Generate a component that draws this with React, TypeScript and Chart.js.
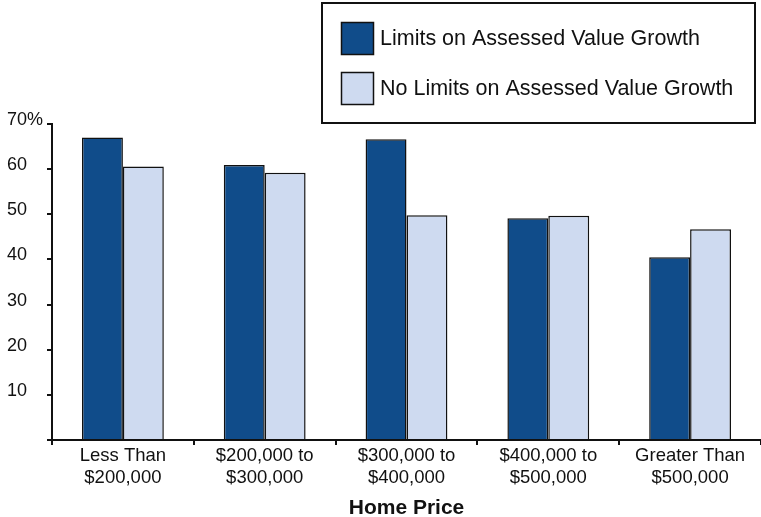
import React, { useEffect, useRef } from 'react';
import { Chart, registerables } from 'chart.js';

Chart.register(...registerables);

const categories: string[][] = [
  ['Less Than', '$200,000'],
  ['$200,000 to', '$300,000'],
  ['$300,000 to', '$400,000'],
  ['$400,000 to', '$500,000'],
  ['Greater Than', '$500,000'],
];
const seriesNames = ['Limits on Assessed Value Growth', 'No Limits on Assessed Value Growth'];
const limitsValues = [67.0, 60.9, 66.6, 49.1, 40.5];
const noLimitsValues = [60.6, 59.2, 49.8, 49.7, 46.7];
const yMax = 70;
const yStep = 10;
const xTitle = 'Home Price';

const DARK = 'rgb(16,76,138)';
const LIGHT = 'rgb(206,218,240)';
const INK = '#111111';
const FONT = '"Liberation Sans", Arial, Helvetica, sans-serif';

const boxLegend = {
  id: 'boxLegend',
  afterDraw(chart: any) {
    const ctx = chart.ctx as CanvasRenderingContext2D;
    ctx.save();
    ctx.lineWidth = 2;
    ctx.strokeStyle = INK;
    ctx.strokeRect(322, 3, 433, 120);
    chart.data.datasets.forEach((ds: any, i: number) => {
      const y = 22 + i * 50;
      ctx.fillStyle = ds.backgroundColor;
      ctx.fillRect(341, y, 33, 33);
      ctx.lineWidth = 1.5;
      ctx.strokeStyle = INK;
      ctx.strokeRect(341.5, y + 0.5, 32, 32);
      ctx.fillStyle = INK;
      ctx.font = `21.5px ${FONT}`;
      ctx.textBaseline = 'middle';
      ctx.textAlign = 'left';
      ctx.fillText(ds.label, 380, y + 17);
    });
    ctx.restore();
  },
};

export default function App() {
  const ref = useRef<HTMLCanvasElement | null>(null);
  useEffect(() => {
    if (!ref.current) return;
    const chart = new Chart(ref.current, {
      type: 'bar',
      data: {
        labels: categories,
        datasets: [
          {
            label: seriesNames[0],
            data: limitsValues,
            backgroundColor: DARK,
            borderColor: INK,
            borderWidth: 1.5,
          },
          {
            label: seriesNames[1],
            data: noLimitsValues,
            backgroundColor: LIGHT,
            borderColor: INK,
            borderWidth: 1.5,
          },
        ],
      },
      options: {
        responsive: false,
        animation: false,
        layout: { padding: { top: 124, left: 7, right: 0, bottom: 0 } },
        datasets: { bar: { categoryPercentage: 0.577, barPercentage: 1 } },
        plugins: { legend: { display: false }, tooltip: { enabled: false } },
        scales: {
          x: {
            grid: {
              offset: true,
              drawOnChartArea: false,
              drawTicks: true,
              tickLength: 5,
              color: INK,
              lineWidth: 2,
            },
            border: { display: true, color: INK, width: 2 },
            ticks: {
              color: INK,
              font: { family: FONT, size: 18.5, lineHeight: 1.18 },
              padding: 0,
              maxRotation: 0,
              autoSkip: false,
            },
            title: {
              display: true,
              text: xTitle,
              color: INK,
              font: { family: FONT, size: 21, weight: 'bold' },
              padding: { top: 0, bottom: -4 },
            },
            afterFit(scale: any) {
              scale.height = 77;
            },
          },
          y: {
            min: 0,
            max: yMax,
            grid: {
              drawOnChartArea: false,
              drawTicks: true,
              tickLength: 5,
              color: INK,
              lineWidth: 2,
            },
            border: { display: true, color: INK, width: 2 },
            ticks: {
              stepSize: yStep,
              color: INK,
              crossAlign: 'far',
              labelOffset: -4,
              font: { family: FONT, size: 18 },
              callback: (v: any) => (v === 0 ? '' : v === yMax ? `${v}%` : `${v}`),
            },
            afterFit(scale: any) {
              scale.width = 45;
            },
          },
        },
      },
      plugins: [boxLegend],
    } as any);
    return () => chart.destroy();
  }, []);
  return (
    <div style={{ position: 'fixed', left: 0, top: 0, width: 761, height: 517, background: '#fff' }}>
      <canvas ref={ref} width={761} height={517} />
    </div>
  );
}
